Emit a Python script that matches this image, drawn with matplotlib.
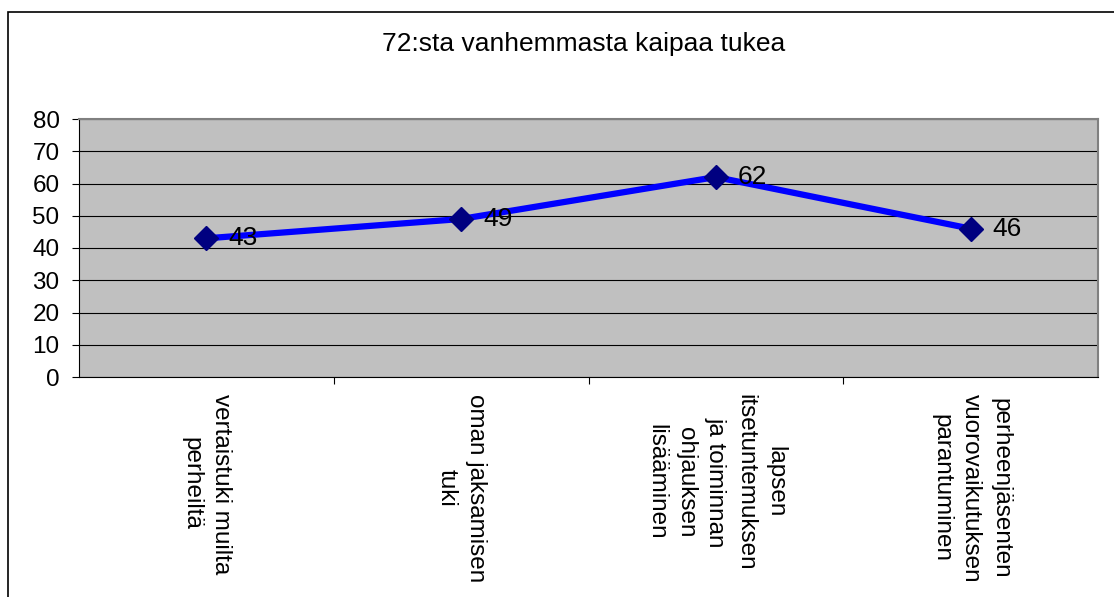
#!/usr/bin/env python3
# coding: utf-8

import numpy as np
import matplotlib
matplotlib.use('Agg')
import matplotlib.pyplot as plt
from matplotlib.patches import Rectangle

title = '72:sta vanhemmasta kaipaa tukea'
categories = ['vertaistuki muilta\nperheiltä',
              'oman jaksamisen\ntuki',
              'lapsen\nitsetuntemuksen\nja toiminnan\nohjauksen\nlisääminen',
              'perheenjäsenten\nvuorovaikutuksen\nparantuminen']
values = [43, 49, 62, 46]
yticks = [0, 10, 20, 30, 40, 50, 60, 70, 80]

plt.rcParams['font.family'] = ['Liberation Sans', 'DejaVu Sans']

W, H = 1114, 597
fig = plt.figure(figsize=(W/100, H/100), dpi=100)

# outer chart frame
fig.patches.append(Rectangle((8/W, -0.1), 1.2, 1.1 - 12/H, transform=fig.transFigure,
                             fill=False, edgecolor='black', linewidth=1.2))

ax = fig.add_axes([79/W, 1 - 377/H, (1098-79)/W, (377-119)/H])
ax.set_facecolor('#c0c0c0')

x = np.arange(len(values))
ax.plot(x, values, '-', color='#0000ff', linewidth=4.5, zorder=3, solid_capstyle='butt')
ax.plot(x, values, 'D', color='#000080', markersize=12.5, zorder=4)
for xi, v in zip(x, values):
    ax.annotate(str(v), (xi, v), xytext=(16, 0), textcoords='offset points',
                fontsize=19, va='center', ha='left', zorder=5)

ax.set_xlim(-0.5, len(values) - 0.5)
ax.set_ylim(0, 80)
ax.set_yticks(yticks)
ax.set_yticklabels([str(t) for t in yticks], fontsize=17.5)
ax.yaxis.grid(True, color='black', linewidth=0.8)
ax.set_axisbelow(True)
ax.tick_params(axis='y', direction='out', length=5, width=0.8, pad=9)

# tick marks between categories, labels under categories
ax.set_xticks(np.arange(0.5, len(values) - 0.5, 1.0))
ax.set_xticklabels([])
ax.tick_params(axis='x', which='major', direction='out', length=5, width=0.8)
ax.set_xticks(x, minor=True)
ax.set_xticklabels(categories, minor=True, rotation=-90, fontsize=17.5,
                   ha='center', va='top', multialignment='center', linespacing=1.45)
ax.tick_params(axis='x', which='minor', length=0, pad=12)

for side in ['top', 'right']:
    ax.spines[side].set_color('#808080')
    ax.spines[side].set_linewidth(1.5)
for side in ['left', 'bottom']:
    ax.spines[side].set_color('black')
    ax.spines[side].set_linewidth(0.8)

fig.text(584/W, 1 - 44/H, title, fontsize=19, ha='center', va='center')

plt.savefig('out.png', dpi=100)
